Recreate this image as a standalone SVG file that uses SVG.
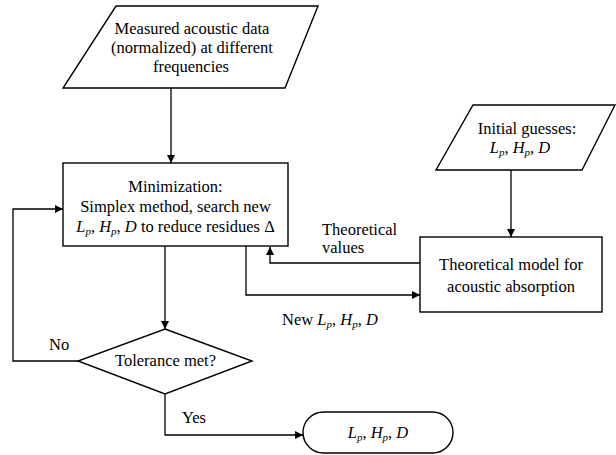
<svg xmlns="http://www.w3.org/2000/svg" width="616" height="455" viewBox="0 0 616 455">
<defs>
<marker id="ah" viewBox="0 0 10 10" refX="10" refY="5" markerWidth="8" markerHeight="8" markerUnits="userSpaceOnUse" orient="auto">
<path d="M0,0 L10,5 L0,10 Z" fill="#000"/>
</marker>
<style>
.s{fill:#fff;stroke:#000;stroke-width:1.4}
.c{fill:none;stroke:#000;stroke-width:1.3;marker-end:url(#ah)}
.t{font-family:"Liberation Serif","Times New Roman",serif;font-size:16.5px;fill:#000}
.m{text-anchor:middle}
.i{font-style:italic}
.sub{font-style:italic;font-size:11px}
</style>
</defs>
<rect width="616" height="455" fill="#fff"/>
<g id="connectors">
<path class="c" d="M171,88 V163"/>
<path class="c" d="M511,170 V237"/>
<path class="c" d="M420,263 H270 V247"/>
<path class="c" d="M246,246 V295 H420"/>
<path class="c" d="M165,246 V329"/>
<path class="c" d="M78,361 H13 V209 H63"/>
<path class="c" d="M165,394 V435 H303"/>
</g>
<g id="measured">
<polygon class="s" points="116,6 318,6 285,88 63,88"/>
<text class="t m" x="192" y="34">Measured acoustic data</text>
<text class="t m" x="192" y="53">(normalized) at different</text>
<text class="t m" x="191" y="72">frequencies</text>
</g>
<g id="minimization">
<rect class="s" x="63" y="163" width="225" height="83"/>
<text class="t m" x="175.5" y="192">Minimization:</text>
<text class="t m" x="175.5" y="212">Simplex method, search new</text>
<text class="t m" x="175.5" y="232"><tspan class="i">L</tspan><tspan class="sub" dy="3">p</tspan><tspan dy="-3">, </tspan><tspan class="i">H</tspan><tspan class="sub" dy="3">p</tspan><tspan dy="-3">, </tspan><tspan class="i">D</tspan> to reduce residues Δ</text>
</g>
<g id="initial">
<polygon class="s" points="473,105 615,105 582,170 436,170"/>
<text class="t m" x="527" y="134">Initial guesses:</text>
<text class="t m" x="520" y="153"><tspan class="i">L</tspan><tspan class="sub" dy="3">p</tspan><tspan dy="-3">, </tspan><tspan class="i">H</tspan><tspan class="sub" dy="3">p</tspan><tspan dy="-3">, </tspan><tspan class="i">D</tspan></text>
</g>
<g id="model">
<rect class="s" x="420" y="237" width="182" height="75"/>
<text class="t m" x="511" y="270">Theoretical model for</text>
<text class="t m" x="511" y="292">acoustic absorption</text>
</g>
<g id="tolerance">
<polygon class="s" points="165,329 252,361 165,394 78,361"/>
<text class="t m" x="165.5" y="366">Tolerance met?</text>
</g>
<g id="result">
<rect class="s" x="303" y="412" width="150" height="41" rx="20.5" ry="20.5"/>
<text class="t m" x="378" y="438"><tspan class="i">L</tspan><tspan class="sub" dy="3">p</tspan><tspan dy="-3">, </tspan><tspan class="i">H</tspan><tspan class="sub" dy="3">p</tspan><tspan dy="-3">, </tspan><tspan class="i">D</tspan></text>
</g>
<g id="labels">
<text class="t" x="322" y="235">Theoretical</text>
<text class="t" x="322" y="253">values</text>
<text class="t" x="282" y="325">New <tspan class="i">L</tspan><tspan class="sub" dy="3">p</tspan><tspan dy="-3">, </tspan><tspan class="i">H</tspan><tspan class="sub" dy="3">p</tspan><tspan dy="-3">, </tspan><tspan class="i">D</tspan></text>
<text class="t" x="49" y="350">No</text>
<text class="t" x="182" y="423">Yes</text>
</g>
</svg>
